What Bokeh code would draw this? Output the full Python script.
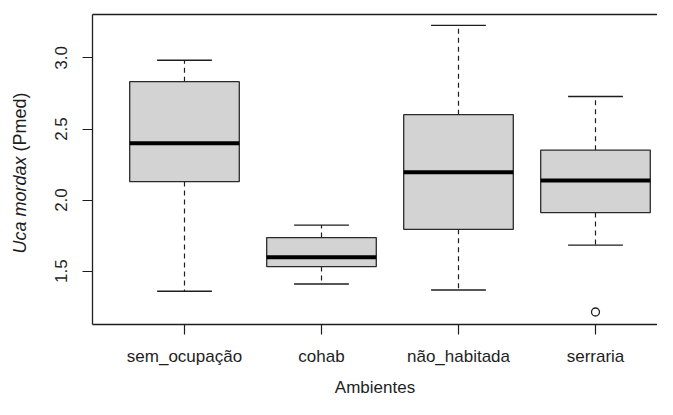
from bokeh.plotting import figure
from bokeh.models import (Range1d, FixedTicker, LinearAxis, ColumnDataSource,
                          PrintfTickFormatter, Div)
from bokeh.layouts import row
from bokeh.embed import file_html
from bokeh.resources import INLINE

# ---- data ----
categories = ["sem_ocupação", "cohab", "não_habitada", "serraria"]
whisker_low = [1.358, 1.409, 1.367, 1.683]
q1 = [2.130, 1.532, 1.794, 1.912]
median = [2.399, 1.597, 2.195, 2.137]
q3 = [2.833, 1.736, 2.601, 2.351]
whisker_high = [2.984, 1.824, 3.230, 2.729]
outlier_cat = ["serraria"]
outlier_val = [1.212]
y_ticks = [1.5, 2.0, 2.5, 3.0]
x_title = "Ambientes"
y_title_italic = "Uca mordax"
y_title_rest = "(Pmed)"

FONT = "Liberation Sans"
INK = "#1e1e1e"
BOXW = 0.8
CAPW = 0.4
H = 399
DIV_W = 40

xs = [i + 1 for i in range(len(categories))]
src = ColumnDataSource(dict(
    x=xs, lo=whisker_low, q1=q1, med=median, q3=q3, hi=whisker_high,
    bl=[x - BOXW / 2 for x in xs], br=[x + BOXW / 2 for x in xs],
    cl=[x - CAPW / 2 for x in xs], cr=[x + CAPW / 2 for x in xs],
))
out_x = [categories.index(c) + 1 for c in outlier_cat]

p = figure(width=657 - DIV_W, height=H, output_backend="svg", toolbar_location=None,
           x_range=Range1d(0.3285, 4.4526), y_range=Range1d(1.124, 3.306),
           min_border_left=92 - DIV_W, min_border_right=0, min_border_top=14,
           min_border_bottom=72)
p.outline_line_color = None
p.grid.grid_line_color = None
p.background_fill_color = "white"
p.border_fill_color = "white"

# whiskers
p.segment(x0="x", y0="q3", x1="x", y1="hi", source=src, line_color=INK,
          line_width=1.2, line_dash="5 4")
p.segment(x0="x", y0="q1", x1="x", y1="lo", source=src, line_color=INK,
          line_width=1.2, line_dash="5 4")
# caps
p.segment(x0="cl", y0="hi", x1="cr", y1="hi", source=src, line_color=INK, line_width=1.3)
p.segment(x0="cl", y0="lo", x1="cr", y1="lo", source=src, line_color=INK, line_width=1.3)
# boxes
p.quad(left="bl", right="br", bottom="q1", top="q3", source=src,
       fill_color="#d3d3d3", line_color="#2a2a2a", line_width=1.3)
# medians
p.segment(x0="bl", y0="med", x1="br", y1="med", source=src, line_color="black",
          line_width=4)
# outliers
p.scatter(out_x, outlier_val, marker="circle", size=8, fill_color=None,
          line_color=INK, line_width=1.3)

# axes
for ax in (p.xaxis[0], p.yaxis[0]):
    ax.axis_line_color = INK
    ax.axis_line_width = 1.3
    ax.major_tick_line_color = INK
    ax.major_tick_line_width = 1.2
    ax.major_tick_in = 0
    ax.major_tick_out = 10
    ax.minor_tick_line_color = None
    ax.major_label_text_font = FONT
    ax.major_label_text_font_size = "17px"
    ax.major_label_text_color = INK

p.xaxis.ticker = FixedTicker(ticks=xs)
p.xaxis.major_label_overrides = {x: c for x, c in zip(xs, categories)}
p.xaxis.major_label_standoff = 12
p.xaxis.axis_label = x_title
p.xaxis.axis_label_text_font = FONT
p.xaxis.axis_label_text_font_size = "17px"
p.xaxis.axis_label_text_font_style = "normal"
p.xaxis.axis_label_text_color = INK
p.xaxis.axis_label_standoff = 9

p.yaxis.ticker = FixedTicker(ticks=y_ticks)
p.yaxis.formatter = PrintfTickFormatter(format="%.1f")
p.yaxis.major_label_orientation = "vertical"
p.yaxis.major_label_standoff = 15

top = LinearAxis(ticker=FixedTicker(ticks=[]), axis_line_color=INK,
                 axis_line_width=1.3, major_tick_out=0, major_tick_in=0,
                 minor_tick_out=0, minor_tick_in=0, major_label_standoff=0,
                 major_label_text_font_size="0px")
p.add_layout(top, "above")

# y title: italic species name + normal unit, rotated, as real HTML text
ytitle = Div(
    text=(
        '<div style="position:relative;width:%dpx;height:%dpx;">'
        '<span style="position:absolute;left:20px;top:173px;white-space:nowrap;'
        'transform:translate(-50%%,-50%%) rotate(-90deg);'
        'font-family:\'Liberation Sans\';font-size:18px;color:%s;line-height:1;">'
        '<i>%s</i> %s</span></div>'
    ) % (DIV_W, H, INK, y_title_italic, y_title_rest),
    width=DIV_W, height=H, margin=0,
)

layout = row(ytitle, p, spacing=0)
open("out.html", "w").write(file_html(layout, INLINE))
